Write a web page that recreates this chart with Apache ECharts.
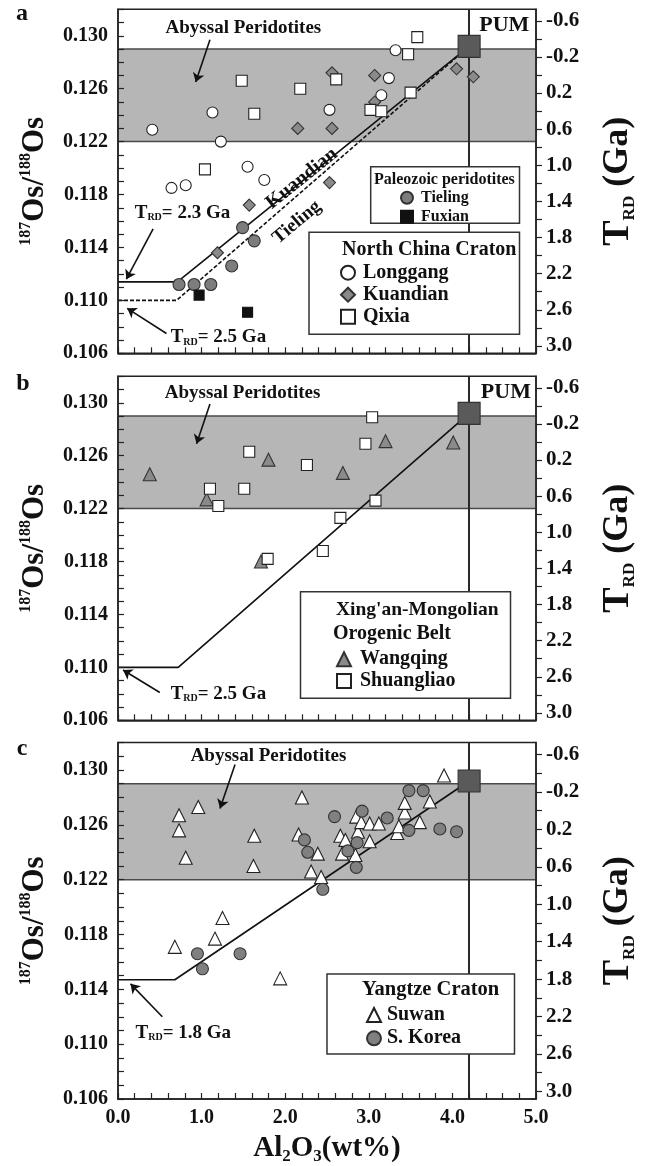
<!DOCTYPE html>
<html>
<head>
<meta charset="utf-8">
<title>Al2O3 vs 187Os/188Os</title>
<script src="https://cdn.jsdelivr.net/npm/echarts@6.0.0/dist/echarts.min.js"></script>
<style>
  html, body { margin: 0; padding: 0; background: #fff; }
  #chart { width: 647px; height: 1166px; }
</style>
</head>
<body>
<div id="chart"></div>
<script>
const FONT = '"Liberation Serif", "Times New Roman", serif';
const INK = '#111';

// ---------------- axis ticks ----------------
const al2o3Ticks = [0, 1, 2, 3, 4, 5];
const osTicks = [0.106, 0.110, 0.114, 0.118, 0.122, 0.126, 0.130];
const trdTicks = [-0.6, -0.2, 0.2, 0.6, 1.0, 1.4, 1.8, 2.2, 2.6, 3.0];

// ---------------- reference values ----------------
const abyssalBand = [0.122, 0.129];
const pum = [[4.2, 0.1292]];

// ---------------- a: North China Craton ----------------
const longgang = [[0.41,0.1229],[0.64,0.1185],[0.81,0.1187],[1.13,0.1242],[1.23,0.1220],[1.55,0.1201],
  [1.75,0.1191],[2.53,0.1244],[3.15,0.1255],[3.24,0.1268],[3.32,0.1289]];
const kuandian = [[1.19,0.1136],[1.57,0.1172],[2.15,0.1230],[2.56,0.1230],[2.56,0.1272],[2.53,0.1189],
  [3.07,0.1270],[3.07,0.1250],[4.05,0.1275],[4.25,0.1269]];
const qixia = [[1.04,0.1199],[1.48,0.1266],[1.63,0.1241],[2.18,0.1260],[2.61,0.1267],[3.02,0.1244],
  [3.15,0.1243],[3.47,0.1286],[3.58,0.1299],[3.50,0.1257]];
const tieling = [[0.73,0.1112],[0.91,0.1112],[1.11,0.1112],[1.36,0.1126],[1.49,0.1155],[1.63,0.1145]];
const fuxian = [[0.97,0.1104],[1.55,0.1091]];
const kuandianTrend = [[0,0.1114],[0.71,0.1114],[4.2,0.1292]];
const tielingTrend = [[0,0.1100],[0.70,0.1100],[4.2,0.1292]];

// ---------------- b: Xing'an-Mongolian Orogenic Belt ----------------
const wangqing = [[0.38,0.1246],[1.06,0.1227],[1.80,0.1257],[1.71,0.1180],[2.69,0.1247],[3.20,0.1271],[4.01,0.1270]];
const shuangliao = [[1.10,0.1235],[1.20,0.1222],[1.51,0.1235],[1.57,0.1263],[1.79,0.1182],[2.26,0.1253],
  [2.45,0.1188],[2.66,0.1213],[2.96,0.1269],[3.04,0.1289],[3.08,0.1226]];
const orogenTrend = [[0,0.1100],[0.72,0.1100],[4.2,0.1292]];

// ---------------- c: Yangtze Craton ----------------
const suwan = [[0.73,0.1267],[0.73,0.1256],[0.81,0.1236],[0.96,0.1273],[0.68,0.1171],[1.16,0.1177],[1.25,0.1192],
  [1.63,0.1252],[1.62,0.1230],[1.94,0.1148],[2.20,0.1280],[2.16,0.1253],[2.39,0.1239],[2.31,0.1226],[2.43,0.1222],
  [2.66,0.1252],[2.72,0.1249],[2.68,0.1239],[2.84,0.1238],[2.85,0.1266],[2.87,0.1255],[2.91,0.1262],[3.01,0.1261],
  [3.01,0.1248],[3.12,0.1261],[3.34,0.1254],[3.36,0.1259],[3.43,0.1269],[3.43,0.1276],[3.61,0.1262],[3.73,0.1277],
  [3.90,0.1296]];
const sKorea = [[0.95,0.1166],[1.01,0.1155],[1.46,0.1166],[2.45,0.1213],[2.23,0.1249],[2.27,0.1240],[2.59,0.1266],
  [2.75,0.1241],[2.86,0.1247],[2.85,0.1229],[2.92,0.1270],[3.22,0.1265],[3.48,0.1256],[3.48,0.1285],[3.65,0.1285],
  [3.85,0.1257],[4.05,0.1255]];
const yangtzeTrend = [[0,0.1147],[0.68,0.1147],[4.2,0.1292]];

// ---------------- scales ----------------
const OS_MIN = 0.106, OS_MAX = 0.132;
// Re-depletion age axis: linear in the Os ratio
const trdAt = r => -0.2 + (0.1284 - r) * 146.5;

const steps = (a, b, step) => {
  const out = [];
  for (let i = 0; a + i * step <= b + 1e-9; i++) out.push(+(a + i * step).toFixed(4));
  return out;
};
const osMinor = steps(OS_MIN, OS_MAX, 0.001);
const trdMinor = steps(-0.6, 3.0, 0.2);
const alMinor = steps(0, 5, 0.2);

const bold = (size, extra) => Object.assign({ fontFamily: FONT, fontWeight: 'bold', fontSize: size, color: INK }, extra || {});

const grids = [
  { left: 118, top: 9.3, width: 418, height: 344 },
  { left: 118, top: 376.3, width: 418, height: 344 },
  { left: 118, top: 742.6, width: 418, height: 356.7 }
].map(g => Object.assign(g, { show: true, borderColor: '#222', borderWidth: 1.5, backgroundColor: 'transparent' }));

const lineStyle = { color: '#222', width: 1.5 };
const tickStyle = { color: '#222', width: 1.2 };

const xAxes = [0, 1, 2].map(p => ({
  type: 'value', gridIndex: p, min: 0, max: 5, z: 10,
  axisLine: { show: true, onZero: false, lineStyle },
  axisTick: { show: true, inside: true, length: 6, customValues: alMinor, lineStyle: tickStyle },
  axisLabel: { show: p === 2, customValues: al2o3Ticks, margin: 9, formatter: v => v.toFixed(1), ...bold(20) },
  splitLine: { show: false },
  name: p === 2 ? '{m|Al}{s|2}{m|O}{s|3}{m|(wt%)}' : '',
  nameLocation: 'middle', nameGap: 34,
  nameTextStyle: {
    rich: {
      m: bold(29, { lineHeight: 32 }),
      s: bold(17, { verticalAlign: 'bottom', lineHeight: 17 })
    }
  }
}));

const yAxes = [];
[0, 1, 2].forEach(p => {
  yAxes.push({
    type: 'value', gridIndex: p, position: 'left', min: OS_MIN, max: OS_MAX, z: 10,
    axisLine: { show: true, onZero: false, lineStyle },
    axisTick: { show: true, inside: true, length: 6, customValues: osMinor, lineStyle: tickStyle },
    axisLabel: { customValues: osTicks, margin: 10, formatter: v => v.toFixed(3), ...bold(20) },
    splitLine: { show: false },
    name: '{s|187}{m|Os/}{s|188}{m|Os}',
    nameLocation: 'middle', nameRotate: 90, nameGap: 66,
    nameTextStyle: {
      rich: {
        m: bold(31, { lineHeight: 34 }),
        s: bold(16, { verticalAlign: 'top', lineHeight: 16 })
      }
    }
  });
  yAxes.push({
    type: 'value', gridIndex: p, position: 'right', inverse: true,
    min: trdAt(OS_MAX), max: trdAt(OS_MIN), z: 10,
    axisLine: { show: true, onZero: false, lineStyle },
    axisTick: { show: true, inside: false, length: 6, customValues: trdMinor, lineStyle: tickStyle },
    axisLabel: { customValues: trdTicks, margin: 10, formatter: v => v.toFixed(1), ...bold(21) },
    splitLine: { show: false },
    name: '{t|T}{s|RD}{m| (Ga)}',
    nameLocation: 'middle', nameRotate: 90, nameGap: 62,
    nameTextStyle: {
      rich: {
        t: bold(38, { lineHeight: 40 }),
        m: bold(36, { lineHeight: 40 }),
        s: bold(17, { verticalAlign: 'bottom', lineHeight: 17 })
      }
    }
  });
});

// ---------------- series helpers ----------------
function points(name, p, data, symbol, size, fill, stroke) {
  return {
    name, type: 'scatter', xAxisIndex: p, yAxisIndex: 2 * p, data, symbol, symbolSize: size,
    itemStyle: { color: fill, borderColor: stroke || '#222', borderWidth: 1.1, opacity: 1 },
    z: 5, silent: true
  };
}
function trend(name, p, data, dashed) {
  return {
    name, type: 'line', xAxisIndex: p, yAxisIndex: 2 * p, data, symbol: 'none', silent: true, z: 3,
    lineStyle: { color: INK, width: 1.6, type: dashed ? [4, 2] : 'solid' }
  };
}
function backdrop(p) {
  return {
    type: 'line', xAxisIndex: p, yAxisIndex: 2 * p, data: [], silent: true, z: 1,
    markArea: {
      silent: true,
      itemStyle: { color: '#b6b6b6', borderColor: '#4a4a4a', borderWidth: 1.5 },
      data: [[{ xAxis: 0, yAxis: abyssalBand[0] }, { xAxis: 5, yAxis: abyssalBand[1] }]]
    },
    markLine: {
      silent: true, symbol: ['none', 'none'], label: { show: false },
      lineStyle: { color: '#2a2a2a', width: 2, type: 'solid' },
      data: [{ xAxis: pum[0][0] }]
    }
  };
}
const noteRich = {
  t: bold(19),
  s: bold(10, { verticalAlign: 'bottom', lineHeight: 12 })
};
function notes(p, items) {
  return {
    type: 'scatter', xAxisIndex: p, yAxisIndex: 2 * p, symbolSize: 0, silent: true, z: 6,
    itemStyle: { opacity: 1 },
    data: items.map(it => ({
      value: it.at,
      label: {
        show: true, position: [0, 0], formatter: it.text, opacity: 1,
        align: it.align || 'center', verticalAlign: 'middle', rotate: it.rotate || 0,
        ...bold(it.size || 19), rich: noteRich
      }
    }))
  };
}
function arrows(p, segs) {
  return {
    type: 'lines', coordinateSystem: 'cartesian2d', xAxisIndex: p, yAxisIndex: 2 * p, silent: true, z: 6,
    symbol: ['none', 'arrow'], symbolSize: 9,
    lineStyle: { color: INK, width: 1.6, opacity: 1, curveness: 0 },
    data: segs.map(s => ({ coords: s }))
  };
}
function pumMark(p) {
  return points('PUM', p, pum, 'rect', 22, '#5a5a5a', '#333');
}

const series = [
  // a
  backdrop(0),
  trend('Kuandian trend', 0, kuandianTrend, false),
  trend('Tieling trend', 0, tielingTrend, true),
  points('Longgang', 0, longgang, 'circle', 11, '#fff'),
  points('Kuandian', 0, kuandian, 'diamond', 12, '#8a8a8a', '#333'),
  points('Qixia', 0, qixia, 'rect', 11, '#fff'),
  points('Tieling', 0, tieling, 'circle', 12, '#7d7d7d', '#333'),
  points('Fuxian', 0, fuxian, 'rect', 10, '#111', '#111'),
  pumMark(0),
  notes(0, [
    { at: [1.50, 0.1306], text: 'Abyssal Peridotites' },
    { at: [4.62, 0.1308], text: 'PUM', size: 22 },
    { at: [2.20, 0.1192], text: 'Kuandian', size: 20, rotate: 38.8 },
    { at: [2.14, 0.1159], text: 'Tieling', size: 19, rotate: 40 },
    { at: [0.20, 0.1166], text: '{t|T}{s|RD}{t|= 2.3 Ga}', align: 'left' },
    { at: [0.63, 0.1072], text: '{t|T}{s|RD}{t|= 2.5 Ga}', align: 'left' }
  ]),
  arrows(0, [
    [[1.10, 0.1297], [0.93, 0.1265]],
    [[0.42, 0.1154], [0.10, 0.1116]],
    [[0.58, 0.1075], [0.11, 0.1094]]
  ]),
  // b
  backdrop(1),
  trend('Orogen trend', 1, orogenTrend, false),
  points('Wangqing', 1, wangqing, 'triangle', 13, '#8a8a8a', '#333'),
  points('Shuangliao', 1, shuangliao, 'rect', 11, '#fff'),
  pumMark(1),
  notes(1, [
    { at: [1.49, 0.1307], text: 'Abyssal Peridotites' },
    { at: [4.64, 0.1308], text: 'PUM', size: 22 },
    { at: [0.63, 0.1080], text: '{t|T}{s|RD}{t|= 2.5 Ga}', align: 'left' }
  ]),
  arrows(1, [
    [[1.10, 0.1299], [0.94, 0.1269]],
    [[0.50, 0.1081], [0.06, 0.1098]]
  ]),
  // c
  backdrop(2),
  trend('Yangtze trend', 2, yangtzeTrend, false),
  points('Suwan', 2, suwan, 'triangle', 13, '#fff'),
  points('S. Korea', 2, sKorea, 'circle', 12, '#808080', '#333'),
  pumMark(2),
  notes(2, [
    { at: [1.80, 0.1310], text: 'Abyssal Peridotites' },
    { at: [0.21, 0.1108], text: '{t|T}{s|RD}{t|= 1.8 Ga}', align: 'left' }
  ]),
  arrows(2, [
    [[1.40, 0.1304], [1.22, 0.1272]],
    [[0.53, 0.1120], [0.15, 0.1144]]
  ])
];

// ---------------- legends and boxes ----------------
function legendAt(names, left, top, size, gap, icon, pad) {
  return {
    data: names, orient: 'vertical', left, top, itemGap: gap, itemWidth: icon, itemHeight: icon,
    selectedMode: false, z: 30, padding: 0,
    textStyle: bold(size, { lineHeight: size, padding: [0, 0, 0, pad] })
  };
}
const legends = [
  legendAt(['Tieling', 'Fuxian'], 400, 189.7, 16, 3, 12, 3),
  legendAt(['Longgang', 'Kuandian', 'Qixia'], 340, 262.7, 20, 2, 14, 3),
  legendAt(['Wangqing', 'Shuangliao'], 336, 649.3, 20, 1.7, 14, 4),
  legendAt(['Suwan', 'S. Korea'], 366, 1005, 20, 3.3, 14, 1)
];

function box(x, y, w, h) {
  return { type: 'rect', z: 20, shape: { x, y, width: w, height: h },
    style: { fill: '#fff', stroke: '#333', lineWidth: 1.5 } };
}
function caption(text, x, y, size, align) {
  return { type: 'text', z: 21, x, y,
    style: { text, fill: INK, font: `bold ${size}px ${FONT}`, align: align || 'left', verticalAlign: 'middle' } };
}
const graphics = [
  box(370.7, 166.7, 148.8, 56.6),
  box(309, 232.3, 210.5, 102),
  box(300.5, 591.7, 210, 106.6),
  box(327, 974, 187.5, 80),
  caption('Paleozoic peridotites', 374, 180, 16),
  caption('North China Craton', 342, 250, 20),
  caption("Xing'an-Mongolian", 336, 610, 19.5),
  caption('Orogenic Belt', 333, 634, 20),
  caption('Yangtze Craton', 362, 990, 20.5),
  caption('a', 22, 14, 24, 'center'),
  caption('b', 23, 384, 24, 'center'),
  caption('c', 22, 749, 24, 'center')
];

const chart = echarts.init(document.getElementById('chart'), null, { renderer: 'canvas' });
chart.setOption({
  animation: false,
  backgroundColor: '#fff',
  grid: grids,
  xAxis: xAxes,
  yAxis: yAxes,
  legend: legends,
  graphic: graphics,
  series
});
</script>
</body>
</html>
